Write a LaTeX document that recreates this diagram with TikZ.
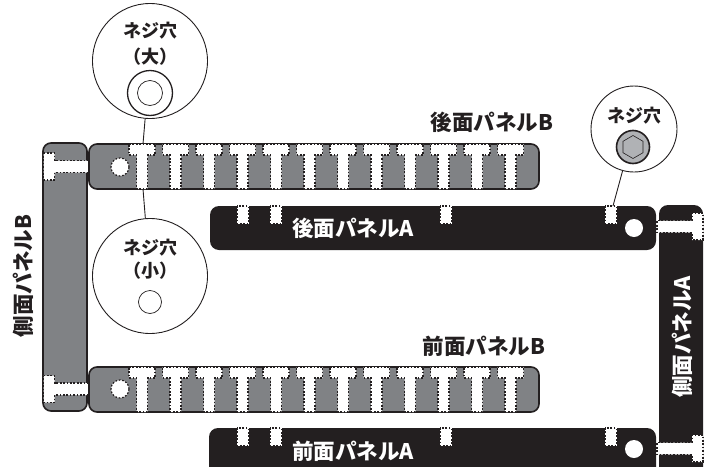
\documentclass[tikz,border=0pt]{standalone}
\usetikzlibrary{shapes.geometric}
\usepackage{fontspec}
\setmainfont{Noto Sans CJK JP Black}
\definecolor{pgrey}{HTML}{808285}
\definecolor{pdark}{HTML}{231F20}
\definecolor{sgrey}{HTML}{B0B2B5}
\tikzset{
 x=1pt,y=-1pt,
 panelb/.style={fill=pgrey,draw=pdark,line width=1.6pt,rounded corners=8pt},
 panela/.style={fill=pdark,draw=none,rounded corners=9pt},
 cut/.style={fill=white,draw=pdark,line width=1.2pt,dash pattern=on 1.7pt off 1.7pt},
 bubble/.style={circle,draw=pdark,fill=white,line width=0.9pt,inner sep=0pt,minimum size=#1},
 hole/.style={circle,fill=white,draw=none,inner sep=0pt,minimum size=#1},
 dottedhole/.style={circle,cut,inner sep=0pt,minimum size=#1},
 lead/.style={draw=pdark,line width=0.9pt},
 lbl/.style={font=\fontsize{#1}{#1}\selectfont,text=pdark,inner sep=0pt},
 lblw/.style={font=\fontsize{#1}{#1}\selectfont,text=white,inner sep=0pt},
}
\newcommand{\tshape}[2]{\draw[cut] (#1-13,#2) -- (#1+13,#2) -- (#1+13,#2+11) -- (#1+5.5,#2+11) -- (#1+5.5,#2+45) -- (#1-5.5,#2+45) -- (#1-5.5,#2+11) -- (#1-13,#2+11) -- cycle;}
\newcommand{\sideT}[2]{\draw[cut] (#1,#2-13.5) -- (#1+11,#2-13.5) -- (#1+11,#2-6) -- (#1+45,#2-6) -- (#1+45,#2+6) -- (#1+11,#2+6) -- (#1+11,#2+13.5) -- (#1,#2+13.5) -- cycle;}
\newcommand{\sideTr}[2]{\draw[cut] (#1,#2-13.5) -- (#1-11,#2-13.5) -- (#1-11,#2-6) -- (#1-46,#2-6) -- (#1-46,#2+6) -- (#1-11,#2+6) -- (#1-11,#2+13.5) -- (#1,#2+13.5) -- cycle;}
\begin{document}
\begin{tikzpicture}
\useasboundingbox (0,0) rectangle (712,466);
\clip (0,0) rectangle (712,466);
% side panel B
\draw[panelb] (43,143) rectangle (87,411);
\sideT{43.5}{166.5}
\sideT{43.5}{389}
% rear panel B
\draw[panelb] (89,144) rectangle (539,189);
\node[dottedhole=18pt] (hb1) at (120,167) {};
\foreach \x in {142,175.5,209,242.5,276,309.5,343,376.5,410,443.5,477,510.5} {\tshape{\x}{144}}
% front panel B
\draw[panelb] (89,367) rectangle (539,412);
\node[dottedhole=18pt] (hb2) at (120,389) {};
\foreach \x in {142,175.5,209,242.5,276,309.5,343,376.5,410,443.5,477,510.5} {\tshape{\x}{367}}
% rear panel A
\fill[panela] (210,206) rectangle (656,250);
\foreach \x in {237,270,440,605} {\draw[cut] (\x,206) rectangle (\x+11.5,223.5);}
\node[hole=18pt] (ha1) at (634,228) {};
% front panel A
\fill[panela] (209,428) rectangle (656,490);
\foreach \x in {237,270,440,605} {\draw[cut] (\x,428) rectangle (\x+11.5,445.5);}
\node[hole=18pt] (ha2) at (634,449) {};
% side panel A
\fill[panela] (659,205) rectangle (703,490);
\sideTr{703}{226.5}
\sideTr{703}{448.5}
% callouts
\node[bubble=115pt] (big) at (150,61) {};
\node[bubble=115pt] (small) at (150,276) {};
\node[bubble=86pt] (screw) at (634,129) {};
\coordinate (bigend) at (143,144);
\coordinate (smallend) at (143,189);
\coordinate (screwend) at (613,206);
\draw[lead] (big) -- (bigend);
\draw[lead] (small) -- (smallend);
\draw[lead] (screw) -- (screwend);
\node[bubble=45pt,line width=1.3pt] (rl) at (150,93) {};
\node[bubble=25pt,line width=0.7pt] (rs) at (150,93) {};
\node[bubble=23pt,line width=0.7pt] (sh) at (150,302) {};
\node[circle,draw=pdark,fill=sgrey,line width=1.6pt,inner sep=0pt,minimum size=33pt] (sc) at (633,147) {};
\node[regular polygon,regular polygon sides=6,draw=pdark,fill=sgrey,line width=0.6pt,inner sep=0pt,minimum size=23pt,rotate=30] (hx) at (633,147) {};
% labels
\node[lbl=18] (t1) at (150,31) {ネジ穴};
\node[lbl=18] (t2) at (150,57) {（大）};
\node[lbl=18] (t3) at (150,248) {ネジ穴};
\node[lbl=18] (t4) at (150,271) {（小）};
\node[lbl=18] (t5) at (634,116) {ネジ穴};
\node[lbl=21.5] (l1) at (492,122) {後面パネルB};
\node[lblw=21.5] (l2) at (353,228) {後面パネルA};
\node[lbl=21.5] (l3) at (484,346) {前面パネルB};
\node[lblw=21.5] (l4) at (353,451) {前面パネルA};
\node[lbl=21.5,rotate=90] (l5) at (23,276) {側面パネルB};
\node[lblw=21.5,rotate=90] (l6) at (682,337) {側面パネルA};
\end{tikzpicture}
\end{document}
